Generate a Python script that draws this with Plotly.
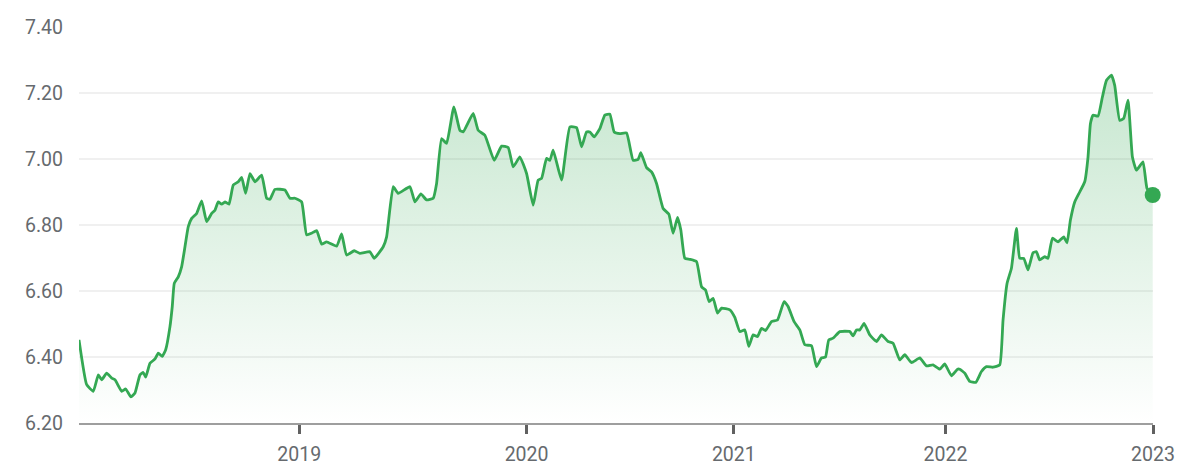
import plotly.graph_objects as go

# Position along the chart's (trading) index axis, and USD/CNY rate
week_index = [
    0.0, 1.54, 2.86, 3.86, 4.54, 5.54, 6.54, 7.2, 8.54, 9.34, 10.4, 11.2, 12.2, 12.86, 13.34,
    14.2, 15.2, 15.86, 16.66, 17.34, 18.2, 18.66, 19.06, 19.86, 20.54, 21.2, 21.86, 22.54,
    23.54, 24.54, 25.54, 26.54, 27.2, 27.86, 28.54, 29.2, 30.0, 30.86, 31.86, 32.54, 33.34,
    34.2, 35.2, 36.54, 37.54, 38.2, 39.2, 41.2, 42.2, 43.2, 44.54, 45.54, 46.54, 47.54,
    48.54, 49.54, 51.54, 52.54, 53.54, 55.06, 56.2, 58.2, 59.06, 60.86, 61.54, 62.86, 63.86,
    66.2, 67.2, 68.4, 69.54, 70.86, 71.54, 72.54, 73.54, 75.0, 76.2, 76.86, 78.86, 79.86,
    81.2, 83.06, 84.54, 85.86, 86.86, 88.2, 89.54, 90.86, 91.86, 92.54, 93.54, 94.2, 94.86,
    96.54, 98.2, 99.54, 100.54, 101.54, 102.2, 103.06, 104.2, 105.2, 106.2, 107.06, 108.2,
    109.54, 110.86, 111.86, 112.4, 113.54, 114.54, 115.54, 116.86, 118.0, 118.86, 119.74,
    120.4, 121.2, 122.2, 123.54, 124.54, 125.34, 126.06, 126.86, 127.74, 128.54, 130.2,
    131.2, 132.2, 133.2, 134.0, 134.86, 135.74, 136.54, 137.34, 138.54, 139.74, 141.06,
    141.86, 143.06, 144.2, 145.2, 146.54, 147.54, 148.54, 149.34, 150.0, 150.86, 152.2,
    154.2, 154.86, 155.54, 156.2, 157.06, 158.2, 159.54, 160.54, 161.86, 162.86, 164.2,
    165.2, 166.54, 168.2, 169.54, 170.86, 172.2, 173.2, 174.54, 175.74, 176.2, 177.2,
    178.2, 179.4, 180.54, 181.54, 182.86, 184.2, 184.86, 185.66, 186.54, 187.54, 188.2,
    189.0, 189.86, 190.86, 191.54, 192.2, 193.2, 193.86, 194.74, 195.86, 197.0, 197.66,
    198.34, 199.2, 200.2, 201.2, 201.86, 202.34, 202.86, 203.86, 204.74, 205.54, 206.54,
    207.2, 208.2, 209.0, 209.86, 210.74, 211.54, 212.86, 213.66, 214.8,
]
rate = [
    6.452, 6.316, 6.296, 6.346, 6.331, 6.351, 6.336, 6.331, 6.296, 6.303, 6.279, 6.291, 6.346, 6.353, 6.339,
    6.381, 6.394, 6.412, 6.402, 6.422, 6.492, 6.553, 6.623, 6.643, 6.674, 6.734, 6.795, 6.820,
    6.835, 6.873, 6.810, 6.835, 6.845, 6.870, 6.863, 6.870, 6.863, 6.921, 6.931, 6.944, 6.896,
    6.956, 6.931, 6.951, 6.881, 6.878, 6.908, 6.906, 6.881, 6.881, 6.870, 6.770, 6.775, 6.783,
    6.742, 6.749, 6.736, 6.773, 6.709, 6.722, 6.714, 6.719, 6.699, 6.734, 6.764, 6.916, 6.896,
    6.916, 6.870, 6.894, 6.876, 6.881, 6.926, 7.062, 7.047, 7.158, 7.087, 7.082, 7.138, 7.087,
    7.072, 6.996, 7.039, 7.035, 6.976, 7.006, 6.956, 6.860, 6.936, 6.941, 7.002, 6.996, 7.027,
    6.936, 7.097, 7.095, 7.037, 7.082, 7.082, 7.067, 7.092, 7.133, 7.136, 7.082, 7.077,
    7.079, 6.996, 6.999, 7.019, 6.974, 6.961, 6.926, 6.850, 6.833, 6.775, 6.823,
    6.785, 6.699, 6.696, 6.689, 6.613, 6.603, 6.568, 6.578, 6.533, 6.548, 6.543,
    6.520, 6.477, 6.482, 6.432, 6.467, 6.462, 6.487, 6.480, 6.507, 6.512, 6.568,
    6.553, 6.507, 6.482, 6.437, 6.434, 6.371, 6.397, 6.400, 6.452, 6.457, 6.477,
    6.477, 6.464, 6.482, 6.482, 6.502, 6.467, 6.447, 6.467, 6.447, 6.442, 6.391,
    6.407, 6.383, 6.397, 6.373, 6.376, 6.363, 6.379, 6.343, 6.363, 6.363, 6.351,
    6.326, 6.323, 6.356, 6.371, 6.369, 6.376, 6.512, 6.623, 6.669, 6.790, 6.699,
    6.699, 6.664, 6.716, 6.719, 6.694, 6.704, 6.699, 6.760, 6.749, 6.764, 6.746,
    6.815, 6.870, 6.900, 6.931, 7.006, 7.107, 7.133, 7.130, 7.188, 7.238, 7.254,
    7.223, 7.117, 7.123, 7.178, 7.006, 6.966, 6.991, 6.911, 6.891,
]
year_tick_index = [44.06, 89.54, 131.0, 173.34, 214.86]
year_labels = ["2019", "2020", "2021", "2022", "2023"]
y_ticks = [6.20, 6.40, 6.60, 6.80, 7.00, 7.20, 7.40]

GREEN = "#34a853"
TEXT = "#666a6e"

fig = go.Figure()
fig.add_trace(go.Scatter(
    x=week_index, y=rate, mode="lines",
    line=dict(color=GREEN, width=2.8, shape="spline", smoothing=0.4),
    fill="tozeroy",
    fillgradient=dict(
        type="vertical", start=6.2, stop=7.26,
        colorscale=[[0, "rgba(52,168,83,0)"], [1, "rgba(52,168,83,0.28)"]],
    ),
    hoverinfo="skip", showlegend=False,
))
fig.add_trace(go.Scatter(
    x=[week_index[-1]], y=[rate[-1]], mode="markers",
    marker=dict(color=GREEN, size=16),
    cliponaxis=False, showlegend=False, hoverinfo="skip",
))

fig.update_layout(
    width=1179, height=465,
    margin=dict(l=79, r=26, t=27, b=42),
    paper_bgcolor="white", plot_bgcolor="white",
    font=dict(family="Roboto, Arial, sans-serif", size=19.5, color=TEXT),
    xaxis=dict(
        range=[0, 214.86], tickvals=year_tick_index, ticktext=year_labels,
        showgrid=False, zeroline=False, automargin=False,
        showline=True, linecolor="#9e9e9e", linewidth=1.5,
        ticks="outside", ticklen=9, tickwidth=2.5, tickcolor="#616161",
        ticklabelstandoff=4,
    ),
    yaxis=dict(
        range=[6.2, 7.4], tickvals=y_ticks, tickformat=".2f",
        showgrid=True, gridcolor="#f0f0f0", gridwidth=1.5,
        zeroline=False, showline=False, ticks="", automargin=False,
        ticklabelstandoff=15,
    ),
)

# Remove the default page margin so the 1179x465 figure fills the window exactly.
fig.write_html(
    "out.html",
    config={"displayModeBar": False},
    post_script="document.body.style.margin='0';document.body.style.overflow='hidden';",
)
